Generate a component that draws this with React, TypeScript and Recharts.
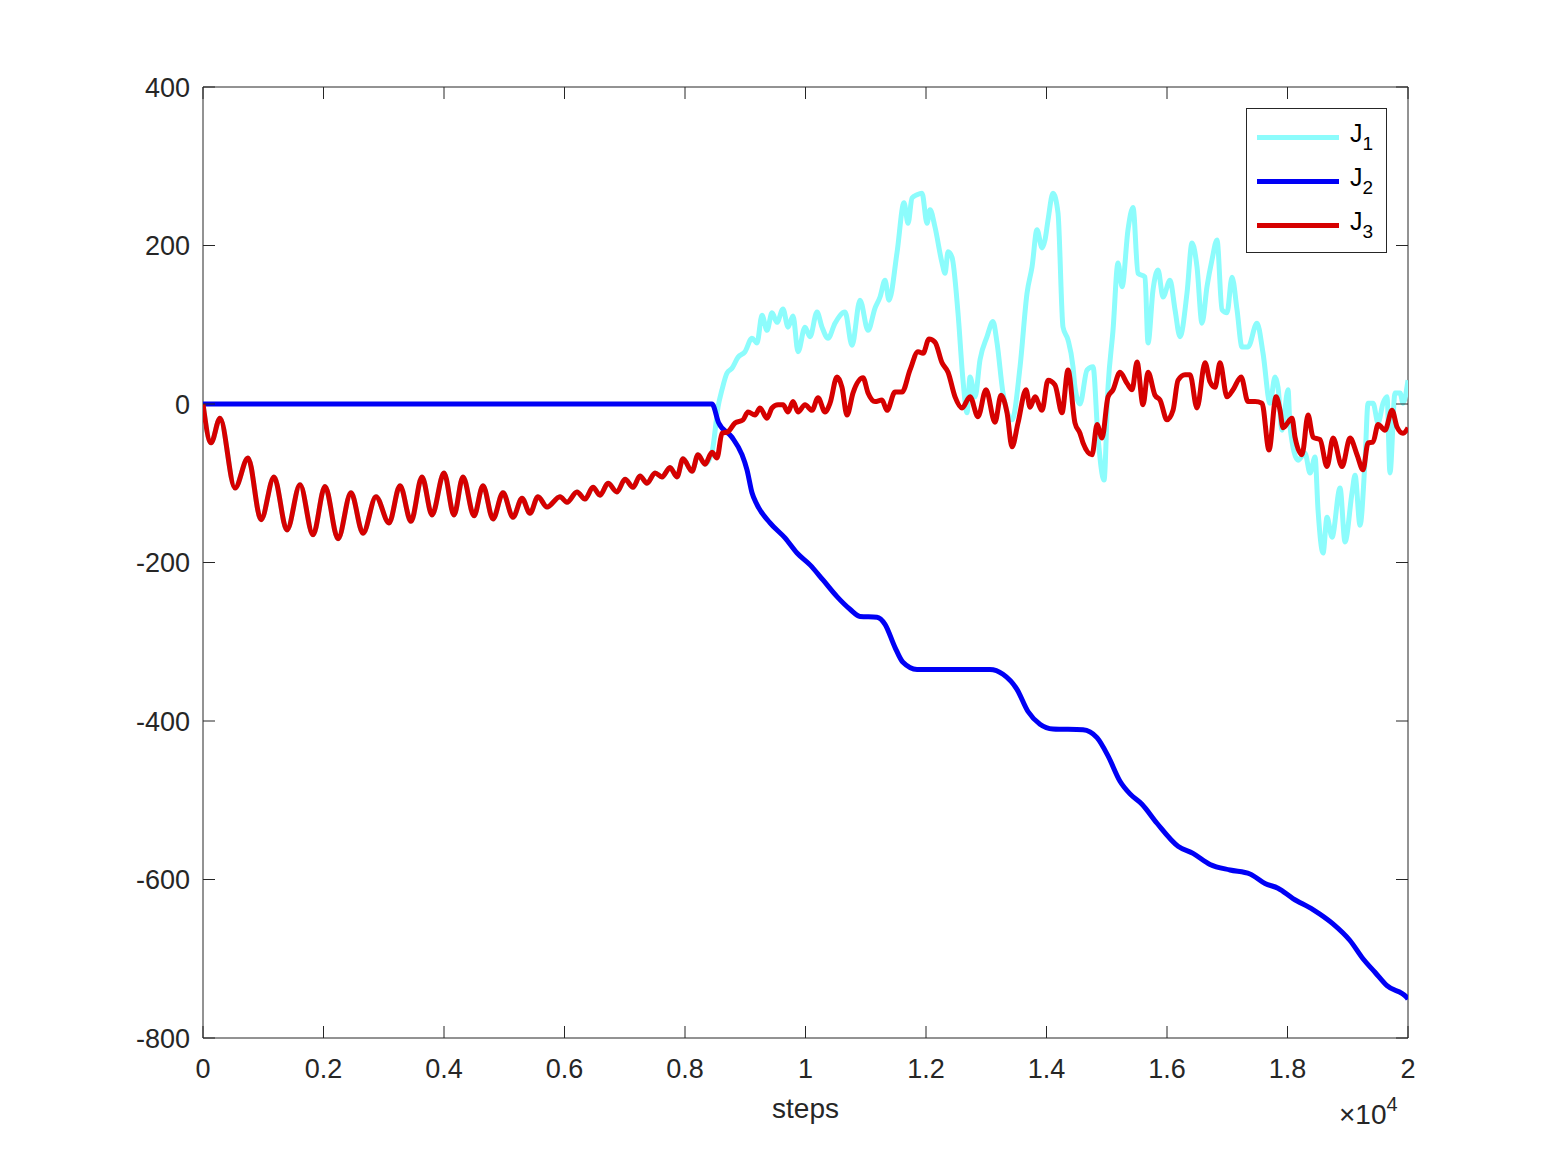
import React from "react";
import { Line, LineChart, ReferenceArea, XAxis, YAxis } from "recharts";

// values: [step, J]
// J3 (red): damped oscillation first, then noisy around zero
const j3Points: [number, number][] = [
  [0, 0], [133, -49], [282, -18], [531, -106], [747, -68], [963, -146], [1178, -92],
  [1394, -159], [1610, -102], [1826, -165], [2025, -104], [2241, -170], [2456, -112],
  [2656, -163], [2871, -117], [3087, -150], [3270, -103], [3452, -148], [3635, -92],
  [3801, -140], [4000, -87], [4166, -140], [4315, -92], [4498, -141], [4647, -103],
  [4813, -145], [4979, -112], [5145, -143], [5295, -119], [5427, -138], [5560, -117],
  [5710, -130], [5925, -117], [6041, -124], [6207, -111], [6340, -120], [6473, -105],
  [6590, -115], [6722, -100], [6871, -111], [7004, -95], [7137, -105], [7253, -91],
  [7369, -100], [7502, -87], [7618, -92], [7751, -80], [7867, -92], [7967, -69],
  [8116, -85], [8216, -64], [8332, -76], [8448, -61], [8531, -68],
  [8614, -37], [8714, -35], [8830, -24], [8963, -20], [9046, -10], [9162, -14],
  [9245, -5], [9361, -18], [9444, -5], [9544, -1], [9627, -1], [9710, -10], [9793, 3],
  [9876, -10], [9992, -1], [10108, -8], [10208, 8], [10324, -10], [10407, 1],
  [10523, 34], [10606, 21], [10689, -14], [10789, 14], [10955, 33], [11038, 14],
  [11154, 3], [11270, 5], [11353, -8], [11486, 15], [11602, 15], [11735, 43],
  [11868, 66], [11951, 64], [12050, 82], [12150, 78], [12266, 52], [12366, 40],
  [12482, 9], [12598, -5], [12731, 9], [12863, -16], [12996, 18], [13145, -23],
  [13245, 11], [13345, -11], [13428, -54], [13527, -24], [13660, 18], [13727, -4],
  [13810, 9], [13926, -8], [14025, 30], [14141, 24], [14257, -11], [14357, 43],
  [14473, -24], [14556, -37], [14606, -49], [14756, -64], [14839, -26], [14922, -43],
  [15021, 9], [15104, 18], [15220, 40], [15337, 26], [15420, 18], [15503, 53],
  [15602, -1], [15685, 40], [15801, 11], [15884, 5], [16000, -20], [16100, -8],
  [16183, 30], [16299, 37], [16382, 37], [16498, -5], [16631, 52], [16714, 28],
  [16797, 21], [16880, 52], [16996, 9], [17096, 18], [17230, 34], [17345, 3],
  [17461, 3], [17577, 1], [17693, -58], [17810, 9], [17876, -8], [17926, -30],
  [18075, -18], [18125, -42], [18241, -64], [18341, -14], [18424, -42], [18540, -45],
  [18656, -79], [18756, -43], [18905, -79], [19038, -43], [19154, -64], [19254, -83],
  [19337, -49], [19420, -48], [19503, -26], [19619, -33], [19735, -8], [19818, -29],
  [19917, -37], [20000, -30],
];

// J1 (cyan) sits under J3 until ~8450 steps, then splits off
const j1Late: [number, number][] = [
  [8465, -54], [8548, -4], [8614, 18], [8697, 39], [8780, 45], [8880, 59], [8996, 66],
  [9112, 83], [9195, 77], [9278, 112], [9361, 93], [9444, 115], [9527, 103], [9627, 120],
  [9710, 97], [9793, 111], [9876, 66], [9992, 97], [10075, 85], [10191, 116], [10274, 97],
  [10374, 83], [10490, 102], [10656, 116], [10772, 74], [10905, 131], [11038, 93],
  [11154, 121], [11237, 135], [11320, 156], [11386, 131], [11519, 191], [11635, 254],
  [11702, 228], [11768, 260], [11850, 264], [11934, 266], [12017, 228], [12067, 245],
  [12150, 223], [12266, 178], [12316, 165], [12366, 192], [12432, 185], [12531, 115],
  [12614, 30], [12681, -11], [12731, 34], [12814, 9], [12897, 56], [13013, 85],
  [13112, 104], [13179, 77], [13278, 14], [13428, -20], [13561, 47], [13677, 140],
  [13760, 173], [13843, 220], [13926, 197], [13975, 207], [14025, 232], [14108, 266],
  [14191, 241], [14274, 97], [14357, 81], [14440, 47], [14473, 21], [14556, 0],
  [14673, 43], [14772, 47], [14855, -42], [14955, -96], [15021, 21], [15104, 93],
  [15187, 178], [15254, 148], [15353, 220], [15436, 248], [15519, 165], [15635, 160],
  [15685, 77], [15768, 144], [15851, 169], [15934, 135], [16050, 156], [16133, 119],
  [16216, 85], [16332, 140], [16415, 203], [16498, 173], [16581, 102], [16664, 148],
  [16747, 182], [16830, 207], [16913, 119], [16996, 115], [17079, 160], [17162, 119],
  [17245, 72], [17345, 72], [17494, 102], [17594, 64], [17710, 1], [17793, 34],
  [17843, 21], [17909, -33], [18009, 18], [18042, -29], [18175, -71], [18291, -62],
  [18374, -87], [18457, -67], [18507, -134], [18590, -188], [18656, -143], [18739, -168],
  [18872, -106], [18955, -174], [19071, -112], [19121, -90], [19204, -153], [19287, -71],
  [19337, 1], [19420, 1], [19503, -24], [19586, 1], [19652, 9], [19701, -87],
  [19785, 14], [19868, 14], [19917, 1], [20000, 30],
];

// J2 (blue): zero, then a staircase decline
const j2Points: [number, number][] = [
  [0, 0], [8448, 0], [8560, -24], [8780, -42], [8946, -64], [9029, -83], [9112, -112],
  [9195, -127], [9411, -150], [9660, -169], [9859, -188], [10075, -203], [10290, -222],
  [10523, -243], [10739, -259], [10905, -268], [11187, -269], [11320, -278],
  [11485, -307], [11618, -326], [11851, -335], [13062, -335], [13278, -341],
  [13510, -360], [13693, -388], [13892, -404], [14108, -410], [14606, -411],
  [14838, -421], [15021, -444], [15220, -476], [15386, -492], [15585, -505],
  [15834, -529], [16183, -558], [16432, -567], [16714, -581], [17046, -588],
  [17378, -593], [17627, -605], [17842, -611], [18091, -624], [18423, -638],
  [18755, -656], [19037, -677], [19253, -700], [19452, -717], [19651, -734],
  [19983, -749], [20000, -751],
];

const xTicks = [0, 2000, 4000, 6000, 8000, 10000, 12000, 14000, 16000, 18000, 20000];
const yTicks = [-800, -600, -400, -200, 0, 200, 400];

const FONT = '"Liberation Sans", Arial, Helvetica, sans-serif';
const INK = "#262626";
const FS = 27;

// plot box in px (matlab-style axes with inward ticks on all four sides)
const PLOT_W = 1205;
const PLOT_H = 951;
const TICK = 12;
const X_GAP = 21;
const Y_GAP = 13;

const toRows = (pts: [number, number][]) => pts.map(([s, v]) => ({ s, v }));

const series = [
  { key: "J1", sub: "1", color: "#8cfcfc", data: toRows([...j3Points.filter(([s]) => s <= 8448), ...j1Late]) },
  { key: "J2", sub: "2", color: "#0000f5", data: toRows(j2Points) },
  { key: "J3", sub: "3", color: "#d60000", data: toRows(j3Points) },
];

function BottomTick(props: any) {
  const { x, y, payload } = props;
  const axisY = y - X_GAP;
  return (
    <g>
      <line x1={x} x2={x} y1={axisY} y2={axisY - TICK} stroke={INK} strokeWidth={1} />
      <line x1={x} x2={x} y1={axisY - PLOT_H} y2={axisY - PLOT_H + TICK} stroke={INK} strokeWidth={1} />
      <text x={x} y={y} dy="0.71em" textAnchor="middle" fill={INK} fontSize={FS} fontFamily={FONT}>
        {String(payload.value / 10000)}
      </text>
    </g>
  );
}

function LeftTick(props: any) {
  const { x, y, payload } = props;
  const axisX = x + Y_GAP;
  return (
    <g>
      <line x1={axisX} x2={axisX + TICK} y1={y} y2={y} stroke={INK} strokeWidth={1} />
      <line x1={axisX + PLOT_W} x2={axisX + PLOT_W - TICK} y1={y} y2={y} stroke={INK} strokeWidth={1} />
      <text x={x} y={y} dy="0.36em" textAnchor="end" fill={INK} fontSize={FS} fontFamily={FONT}>
        {String(payload.value)}
      </text>
    </g>
  );
}

export default function App() {
  return (
    <div
      style={{
        position: "absolute",
        left: 0,
        top: 0,
        width: 1555,
        height: 1166,
        background: "#fff",
        fontFamily: FONT,
      }}
    >
      <LineChart width={1555} height={1166} margin={{ top: 87, right: 147, bottom: 68, left: 143 }}>
        <XAxis
          xAxisId="b"
          type="number"
          dataKey="s"
          domain={[0, 20000]}
          ticks={xTicks}
          allowDataOverflow
          height={60}
          tickSize={0}
          tickMargin={X_GAP}
          tickLine={false}
          axisLine={false}
          tick={BottomTick}
          label={{ value: "steps", position: "bottom", offset: 0, fill: INK, fontSize: 28, fontFamily: FONT }}
        />
        <YAxis
          yAxisId="l"
          type="number"
          domain={[-800, 400]}
          ticks={yTicks}
          allowDataOverflow
          width={60}
          tickSize={0}
          tickMargin={Y_GAP}
          tickLine={false}
          axisLine={false}
          tick={LeftTick}
        />
        <ReferenceArea
          xAxisId="b"
          yAxisId="l"
          x1={0}
          x2={20000}
          y1={-800}
          y2={400}
          stroke={INK}
          strokeWidth={1}
          fill="none"
          fillOpacity={0}
        />
        {series.map((sr) => (
          <Line
            key={sr.key}
            xAxisId="b"
            yAxisId="l"
            data={sr.data}
            dataKey="v"
            name={sr.key}
            type="monotone"
            stroke={sr.color}
            strokeWidth={5}
            dot={false}
            activeDot={false}
            isAnimationActive={false}
          />
        ))}
      </LineChart>

      {/* legend box, top right inside the axes */}
      <div
        style={{
          position: "absolute",
          left: 1246,
          top: 108,
          width: 141,
          height: 145,
          boxSizing: "border-box",
          border: `1px solid ${INK}`,
          background: "#fff",
        }}
      >
        {series.map((sr, i) => (
          <div key={sr.key} style={{ position: "absolute", left: 10, top: 28 + i * 44, height: 0 }}>
            <div style={{ position: "absolute", left: 0, top: -2, width: 82, height: 5, background: sr.color }} />
            <div
              style={{
                position: "absolute",
                left: 93,
                top: -16,
                fontSize: 25,
                lineHeight: "25px",
                color: "#000",
                whiteSpace: "nowrap",
              }}
            >
              J<span style={{ fontSize: 19, position: "relative", top: 8 }}>{sr.sub}</span>
            </div>
          </div>
        ))}
      </div>

      {/* exponent of the x axis */}
      <div
        style={{
          position: "absolute",
          left: 1339,
          top: 1101,
          fontSize: 28,
          lineHeight: "28px",
          color: INK,
          whiteSpace: "nowrap",
        }}
      >
        ×10<span style={{ fontSize: 20, position: "relative", top: -13 }}>4</span>
      </div>
    </div>
  );
}
